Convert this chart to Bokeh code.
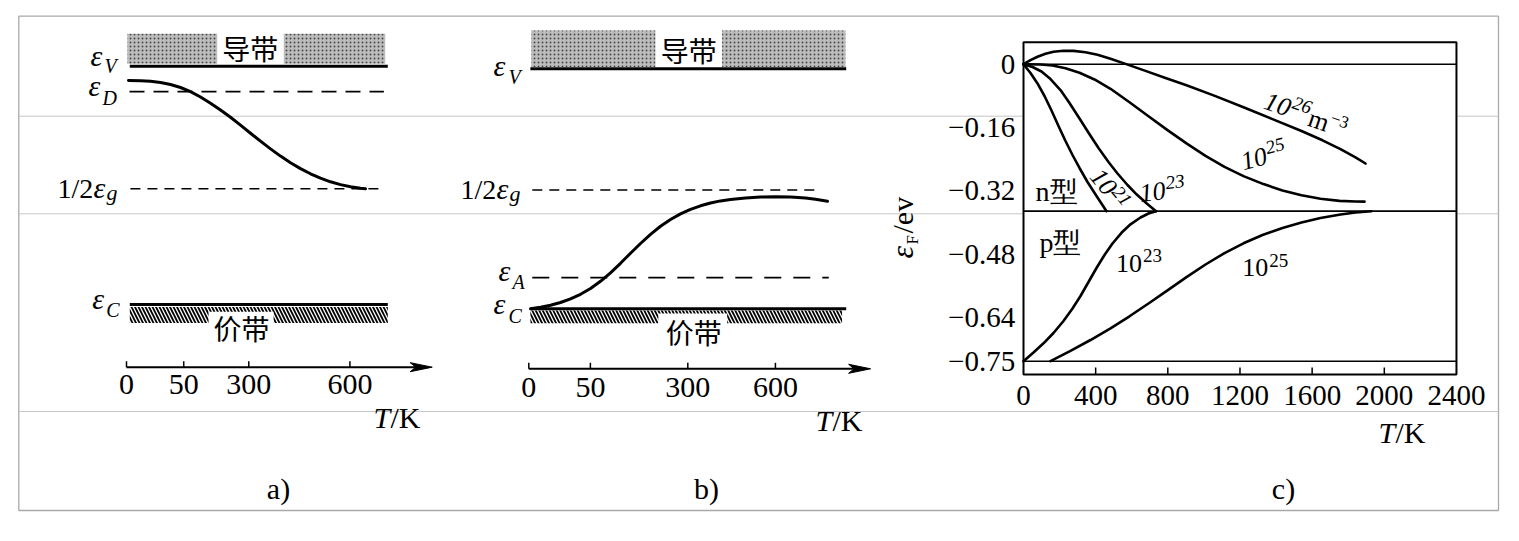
import math
from bokeh.plotting import figure
from bokeh.models import Range1d
from bokeh.core.properties import value
from bokeh.embed import file_html
from bokeh.resources import INLINE

# ---------------- data ----------------
# (a) n-type semiconductor, schematic: x = position along the T axis, y = energy (eC = 0, eV = 1)
a_tick_pos = [0.0, 0.219, 0.468, 0.855]
a_tick_labels = ["0", "50", "300", "600"]
a_level_V = 1.0
a_level_D = 0.893
a_level_half = 0.4855
a_level_C = 0.0
a_curve_x = [0.0077, 0.0536, 0.0918, 0.1301, 0.1684, 0.2067, 0.2449, 0.2832, 0.3215, 0.3597,
             0.3980, 0.4363, 0.4746, 0.5128, 0.5511, 0.5894, 0.6276, 0.6659, 0.7042, 0.7424,
             0.7807, 0.8190, 0.8573, 0.8955, 0.9147]
a_curve_e = [0.9400, 0.9392, 0.9366, 0.9316, 0.9232, 0.9106, 0.8930, 0.8707, 0.8447, 0.8162,
             0.7856, 0.7528, 0.7188, 0.6853, 0.6530, 0.6227, 0.5950, 0.5703, 0.5485, 0.5300,
             0.5149, 0.5031, 0.4943, 0.4880, 0.4855]

# (b) p-type semiconductor, schematic
b_tick_pos = [0.0, 0.194, 0.501, 0.777]
b_tick_labels = ["0", "50", "300", "600"]
b_level_V = 1.0
b_level_half = 0.495
b_level_A = 0.130
b_level_C = 0.0
b_curve_x = [0.0054, 0.0369, 0.0684, 0.0999, 0.1314, 0.1629, 0.1944, 0.2259, 0.2574, 0.2889,
             0.3204, 0.3519, 0.3835, 0.4150, 0.4465, 0.4780, 0.5095, 0.5410, 0.5725, 0.6040,
             0.6355, 0.6828, 0.7300, 0.7773, 0.8245, 0.8718, 0.9033, 0.9411]
b_curve_e = [0.0, 0.0063, 0.0146, 0.0263, 0.0413, 0.0604, 0.0846, 0.1146, 0.1500, 0.1896,
             0.2313, 0.2721, 0.3104, 0.3438, 0.3721, 0.3954, 0.4142, 0.4292, 0.4408, 0.4496,
             0.4558, 0.4621, 0.4654, 0.4667, 0.4654, 0.4613, 0.4563, 0.4483]

# (c) Fermi level vs temperature (T in K, energy in eV)
c_T_ticks = [0, 400, 800, 1200, 1600, 2000, 2400]
c_T_labels = ["0", "400", "800", "1200", "1600", "2000", "2400"]
c_E_ticks = [0, -0.16, -0.32, -0.48, -0.64, -0.75]
c_E_labels = ["0", "\u22120.16", "\u22120.32", "\u22120.48", "\u22120.64", "\u22120.75"]
c_E_top = 0.0
c_E_np = -0.371
c_E_bottom = -0.75
n26_T = [0, 38.8, 77.6, 122.0, 166.3, 221.7, 277.2, 343.7, 410.2, 482.3, 565.4, 676.3, 787.1,
         903.5, 1064.3, 1219.5, 1380.3, 1541.0, 1657.4, 1757.2, 1840.4, 1895.8]
n26_E = [0, 0.0104, 0.0189, 0.0263, 0.0313, 0.0341, 0.0336, 0.0301, 0.0237, 0.0139, 0.0008,
         -0.0169, -0.0346, -0.0533, -0.0806, -0.1088, -0.1386, -0.1687, -0.1922, -0.2144,
         -0.2351, -0.2508]
n25_T = [0, 94.2, 160.8, 232.8, 310.4, 393.6, 482.3, 587.6, 692.9, 798.2, 903.5, 1008.9,
         1114.2, 1219.5, 1330.4, 1435.7, 1541.0, 1646.3, 1751.7, 1840.4, 1890.2]
n25_E = [0, -0.0008, -0.0033, -0.0104, -0.0215, -0.0386, -0.0621, -0.0962, -0.1316, -0.1664,
         -0.2000, -0.2313, -0.2591, -0.2826, -0.3028, -0.3187, -0.3311, -0.3399, -0.3452,
         -0.3467, -0.3470]
n21_T = [0, 38.8, 77.6, 116.4, 155.2, 194.0, 232.8, 271.6, 310.4, 354.8, 404.7, 460.1]
n21_E = [0, -0.0222, -0.0487, -0.0803, -0.1169, -0.1561, -0.1939, -0.2293, -0.2621, -0.2975,
         -0.3328, -0.3712]
n23_T = [0, 49.9, 99.8, 149.7, 205.1, 255.0, 310.4, 365.9, 415.7, 471.2, 521.1, 576.5, 626.4,
         681.8, 734.5]
n23_E = [0, -0.0071, -0.0184, -0.0374, -0.0652, -0.0980, -0.1371, -0.1770, -0.2116, -0.2470,
         -0.2760, -0.3051, -0.3285, -0.3513, -0.3712]
p23_T = [0, 55.4, 110.9, 166.3, 221.7, 271.6, 316.0, 360.3, 404.7, 449.0, 493.3, 543.2, 593.1,
         648.6, 692.9, 734.5]
p23_E = [-0.75, -0.7280, -0.7048, -0.6788, -0.6485, -0.6169, -0.5854, -0.5500, -0.5147,
         -0.4818, -0.4528, -0.4258, -0.4043, -0.3871, -0.3770, -0.3712]
p25_T = [149.7, 260.5, 371.4, 482.3, 587.6, 692.9, 798.2, 903.5, 1008.9, 1114.2, 1219.5,
         1324.8, 1435.7, 1541.0, 1646.3, 1757.2, 1840.4, 1929.0]
p25_E = [-0.75, -0.7237, -0.6965, -0.6669, -0.6366, -0.6043, -0.5710, -0.5376, -0.5058,
         -0.4770, -0.4523, -0.4313, -0.4136, -0.3998, -0.3886, -0.3796, -0.3745, -0.3712]

# ---------------- figure ----------------
W, H = 1519, 541
p = figure(width=W, height=H, x_range=Range1d(0, W), y_range=Range1d(H, 0),
           x_axis_type=None, y_axis_type=None, output_backend="svg",
           toolbar_location=None, min_border=0)
p.outline_line_color = None
p.background_fill_color = "white"
p.border_fill_color = "white"

# panel scales: pixel = origin + scale * value
def xr(origin, scale):
    return Range1d((0 - origin) / scale, (W - origin) / scale)

def yr(origin, scale):
    return Range1d((origin - H) / scale, origin / scale)

PAN = {
    "a": (126.0, 261.3, 304.0, 238.3),
    "b": (528.3, 317.4, 308.3, 240.0),
    "c": (1023.0, 0.1804, 63.7, 396.0),
}
p.extra_x_ranges = {k + "x": xr(v[0], v[1]) for k, v in PAN.items()}
p.extra_y_ranges = {k + "y": yr(v[2], v[3]) for k, v in PAN.items()}

def R(k):
    return dict(x_range_name=k + "x", y_range_name=k + "y")

SERIF = value("Liberation Serif")
CJK = value("Noto Sans CJK SC")
MID = 0.3375  # baseline-to-middle distance of the serif font, in em

def label(k, x, y, parts, angle=0.0):
    """parts: (text, size px, style, dx px, dy px) with dy = baseline offset (up positive)."""
    sx, sy = PAN[k][1], PAN[k][3]
    ca, sa = math.cos(angle), math.sin(angle)
    for txt, size, style, dx, dy in parts:
        dy = dy + MID * size
        X = x + (dx * ca - dy * sa) / sx
        Y = y + (dx * sa + dy * ca) / sy
        p.text(x=[X], y=[Y], text=[txt], angle=angle, text_font=SERIF,
               text_font_size=f"{size}px", text_font_style=style, text_color="black",
               text_align="left", text_baseline="middle", **R(k))

# ---------------- background frame ----------------
p.quad(left=[18.3], right=[1498], top=[15.7], bottom=[510], fill_color=None,
       line_color="#a9a9a9", line_width=1.3)
p.multi_line(xs=[[18.3, 1498]] * 3, ys=[[115.7, 115.7], [213.3, 213.3], [411, 411]],
             line_color="#c6c6c6", line_width=1)

# captions
p.text(x=[278, 706, 1283], y=[488, 488, 488], text=["a)", "b)", "c)"], text_font=SERIF,
       text_font_size="30px", text_align="center", text_baseline="middle", text_color="black")

# ---------------- schematic panels a and b ----------------
def band_panel(k, cb, gap_c, vb, gap_v, txt_c, txt_v, lines, curve_x, curve_e,
               axis_e, axis_tip, ticks, tick_labels, tick_label_e):
    sx, sy = PAN[k][1], PAN[k][3]
    # conduction band (speckled)
    p.quad(left=[cb[0]], right=[cb[1]], bottom=[cb[2]], top=[cb[3]], fill_color="#bdbdbd",
           line_color=None, hatch_pattern=".", hatch_color="#4a4a4a", hatch_scale=4,
           hatch_weight=1.2, **R(k))
    p.quad(left=[gap_c[0]], right=[gap_c[1]], bottom=[gap_c[2]], top=[gap_c[3]],
           fill_color="white", line_color=None, **R(k))
    p.text(x=[txt_c[0]], y=[txt_c[1]], text=["导带"], text_font=CJK, text_font_size="28px",
           text_align="center", text_baseline="middle", text_color="black", **R(k))
    # valence band (hatched)
    p.quad(left=[vb[0]], right=[vb[1]], bottom=[vb[2]], top=[vb[3]], fill_color="white",
           line_color=None, hatch_pattern="\\", hatch_color="black", hatch_scale=7,
           hatch_weight=1.8, **R(k))
    p.quad(left=[gap_v[0]], right=[gap_v[1]], bottom=[gap_v[2]], top=[gap_v[3]],
           fill_color="white", line_color=None, **R(k))
    p.text(x=[txt_v[0]], y=[txt_v[1]], text=["价带"], text_font=CJK, text_font_size="28px",
           text_align="center", text_baseline="middle", text_color="black", **R(k))
    # levels
    for x0, x1, e, width, dash in lines:
        p.line([x0, x1], [e, e], line_color="black", line_width=width, line_dash=dash, **R(k))
    # Fermi level curve
    p.line(curve_x, curve_e, line_color="black", line_width=3, line_cap="round",
           line_join="round", **R(k))
    # T axis with arrow
    L, hw = 22 / sx, 4.5 / sy
    p.line([0, axis_tip - L * 0.6], [axis_e, axis_e], line_color="black", line_width=2, **R(k))
    p.patch([axis_tip, axis_tip - L, axis_tip - 0.75 * L, axis_tip - L],
            [axis_e, axis_e + hw, axis_e, axis_e - hw], fill_color="black",
            line_color="black", line_width=1, **R(k))
    p.segment(x0=ticks, y0=[axis_e] * len(ticks), x1=ticks,
              y1=[axis_e + 6 / sy] * len(ticks), line_color="black", line_width=1.5, **R(k))
    p.text(x=ticks, y=[tick_label_e] * len(ticks), text=tick_labels, text_font=SERIF,
           text_font_size="30px", text_align="center", text_baseline="middle",
           text_color="black", **R(k))

band_panel("a", cb=(0.003, 0.99, 1.01, 1.136), gap_c=(0.347, 0.602, 1.0, 1.14),
           vb=(0.0126, 1.0, -0.078, -0.011), gap_v=(0.314, 0.563, -0.085, -0.03),
           txt_c=(0.474, 1.075), txt_v=(0.44, -0.1),
           lines=[(0.0126, 1.0, a_level_V, 3, "solid"),
                  (0.0115, 0.985, a_level_D, 1.8, "15 9"),
                  (0.015, 0.984, a_level_half, 1.6, "10 7"),
                  (0.0126, 1.0, a_level_C, 3, "solid")],
           curve_x=a_curve_x, curve_e=a_curve_e, axis_e=-0.263, axis_tip=1.17,
           ticks=a_tick_pos, tick_labels=a_tick_labels, tick_label_e=-0.3357)

band_panel("b", cb=(0.0076, 0.998, 1.007, 1.16), gap_c=(0.399, 0.609, 1.0, 1.17),
           vb=(0.005, 0.987, -0.06, -0.007), gap_v=(0.408, 0.625, -0.065, -0.02),
           txt_c=(0.504, 1.08), txt_v=(0.52, -0.097),
           lines=[(0.005, 1.0, b_level_V, 3, "solid"),
                  (0.011, 0.914, b_level_half, 1.6, "10 7"),
                  (0.011, 0.945, b_level_A, 1.8, "17 12"),
                  (0.005, 1.0, b_level_C, 3, "solid")],
           curve_x=b_curve_x, curve_e=b_curve_e, axis_e=-0.25, axis_tip=1.077,
           ticks=b_tick_pos, tick_labels=b_tick_labels, tick_label_e=-0.3267)

# level labels (panel a)
label("a", -0.138, a_level_V, [("ε", 30, "italic", 0, 1), ("V", 20, "italic", 14, -7)])
label("a", -0.145, a_level_D, [("ε", 30, "italic", 0, -4), ("D", 20, "italic", 14, -13)])
label("a", -0.264, a_level_half, [("1/2", 28, "normal", 0, -9), ("ε", 30, "italic", 36, -9),
                                  ("g", 22, "italic", 49, -11)])
label("a", -0.131, a_level_C, [("ε", 30, "italic", 0, -4), ("C", 20, "italic", 14, -12.7)])
label("a", 0.945, -0.515, [("T", 30, "italic", 0, 0), ("/K", 30, "normal", 17, 0)])
# level labels (panel b)
label("b", -0.111, b_level_V, [("ε", 30, "italic", 0, -7), ("V", 20, "italic", 15, -15)])
label("b", -0.215, b_level_half, [("1/2", 28, "normal", 0, -9), ("ε", 30, "italic", 36, -9),
                                  ("g", 22, "italic", 49, -11)])
label("b", -0.0955, b_level_A, [("ε", 30, "italic", 0, -3), ("A", 20, "italic", 14, -11)])
label("b", -0.111, b_level_C, [("ε", 30, "italic", 0, -4.7), ("C", 20, "italic", 15, -13.7)])
label("b", 0.903, -0.507, [("T", 30, "italic", 0, 0), ("/K", 30, "normal", 17, 0)])

# ---------------- panel c ----------------
C = R("c")
box_top, box_bottom = 0.0556, -0.7836
p.quad(left=[c_T_ticks[0]], right=[c_T_ticks[-1]], top=[box_top], bottom=[box_bottom],
       fill_color="white", line_color="black", line_width=2, **C)
for e in (c_E_top, c_E_np, c_E_bottom):
    p.line([c_T_ticks[0], c_T_ticks[-1]], [e, e], line_color="black", line_width=1.6, **C)
inner = c_T_ticks[1:-1]
p.segment(x0=inner, y0=[box_bottom] * len(inner), x1=inner,
          y1=[box_bottom + 7 / 396] * len(inner), line_color="black", line_width=1.5, **C)
p.text(x=c_T_ticks, y=[-0.8366] * len(c_T_ticks), text=c_T_labels, text_font=SERIF,
       text_font_size="29px", text_align="center", text_baseline="middle",
       text_color="black", **C)
p.text(x=[-46] * len(c_E_ticks), y=c_E_ticks, text=c_E_labels, text_font=SERIF,
       text_font_size="29px", text_align="right", text_baseline="middle",
       text_color="black", **C)

for tt, ee in ((n26_T, n26_E), (n25_T, n25_E), (n21_T, n21_E), (n23_T, n23_E),
               (p23_T, p23_E), (p25_T, p25_E)):
    p.line(tt, ee, line_color="black", line_width=2.6, line_cap="round", line_join="round", **C)

label("c", 360, -0.2860, [("10", 26, "italic", 0, 0), ("21", 19, "italic", 26, 8)], angle=-0.88)
label("c", 649.7, -0.3485, [("10", 26, "italic", 0, 0), ("23", 19, "italic", 27, 10)], angle=0.12)
label("c", 1219.5, -0.2684, [("10", 26, "italic", 0, 0), ("25", 19, "italic", 27, 10)], angle=0.25)
label("c", 1324.8, -0.1119, [("10", 26, "italic", 0, 0), ("26", 19, "italic", 27, 10),
                             ("m", 26, "normal", 47, -2), ("\u22123", 17, "normal", 68, 8)],
      angle=-0.33)
label("c", 512.2, -0.525, [("10", 26, "normal", 0, 0), ("23", 19, "normal", 27, 10)])
label("c", 1212.3, -0.536, [("10", 26, "normal", 0, 0), ("25", 19, "normal", 27, 10)])
p.text(x=[183, 205], y=[-0.3215, -0.45], text=["n型", "p型"], text_font=SERIF,
       text_font_size="28px", text_align="center", text_baseline="middle",
       text_color="black", **C)
label("c", -615, -0.4907, [("ε", 32, "italic", 0, 0), ("F", 17, "normal", 14, -6),
                           ("/ev", 30, "normal", 25, 0)], angle=math.pi / 2)
label("c", 1968, -0.955, [("T", 30, "italic", 0, 0), ("/K", 30, "normal", 17, 0)])

open("out.html", "w").write(file_html(p, INLINE))
